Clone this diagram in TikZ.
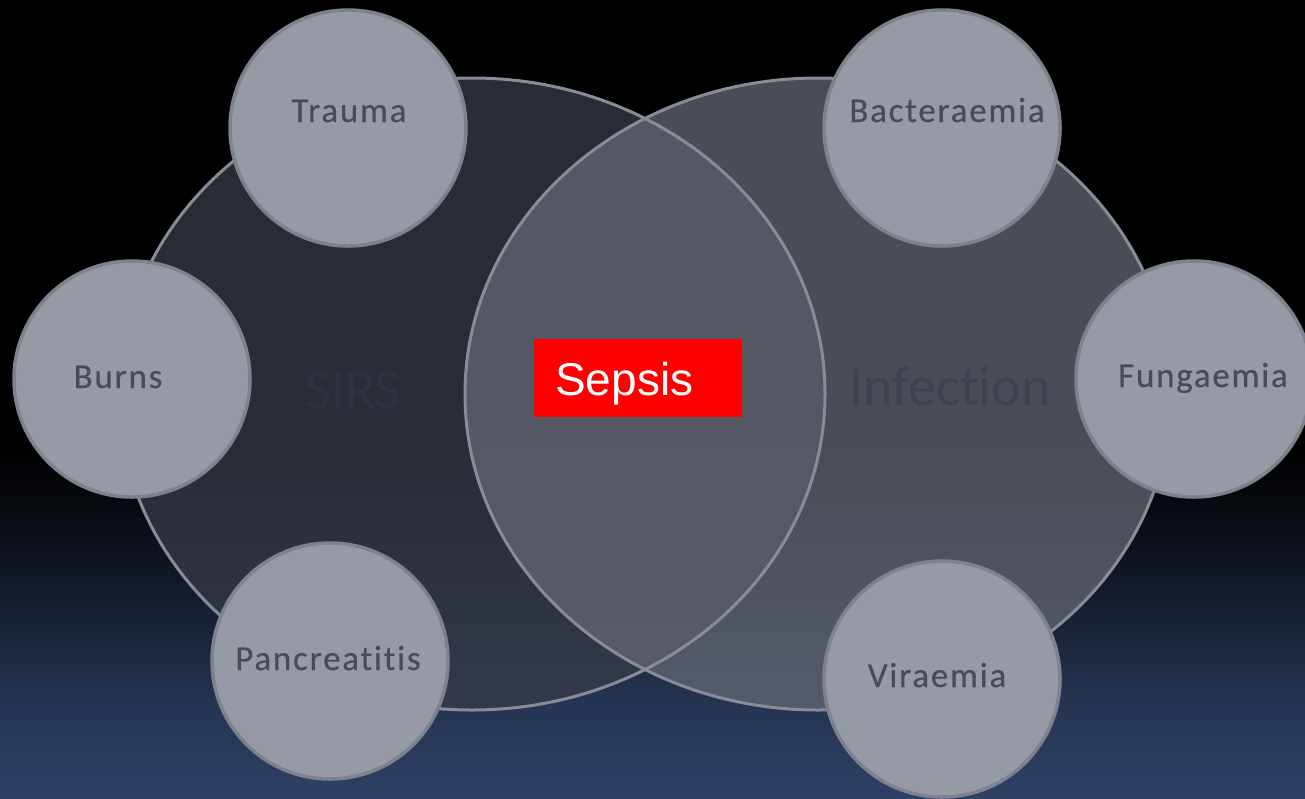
\documentclass[tikz,border=0pt]{standalone}
\usepackage{fontspec}
\setmainfont[Ligatures=NoCommon]{Carlito}
\newfontfamily\arialf{Liberation Sans}
\newfontfamily\labelf[LetterSpace=5,Ligatures=NoCommon,FakeBold=0.4]{Carlito}
\definecolor{bgbot}{RGB}{46,64,100}
\definecolor{bgb2}{RGB}{37,52,82}
\definecolor{bgb3}{RGB}{22,30,48}
\definecolor{bgb4}{RGB}{10,13,22}
\definecolor{sirsfill}{RGB}{56,60,72}
\definecolor{inffill}{RGB}{100,104,115}
\definecolor{outline}{RGB}{135,140,152}
\definecolor{smallfill}{RGB}{150,154,165}
\definecolor{smallborder}{RGB}{125,130,142}
\definecolor{smalltext}{RGB}{72,76,88}
\definecolor{sirstext}{RGB}{46,49,66}
\definecolor{inftext}{RGB}{62,65,79}
\definecolor{sepsisred}{RGB}{255,0,0}
\pgfdeclareverticalshading{bgshade}{100bp}{color(0bp)=(bgbot); color(25bp)=(bgbot); color(31bp)=(bgb2); color(37bp)=(bgb3); color(42bp)=(bgb4); color(47bp)=(black); color(100bp)=(black)}
\tikzset{
  small/.style={circle, draw=smallborder, line width=3.5pt, fill=smallfill, minimum size=236pt, inner sep=0pt},
  smalllabel/.style={anchor=base, text=smalltext, font=\labelf\fontsize{35}{40}\selectfont, inner sep=0pt},
  biglabel/.style={anchor=base, font=\fontsize{56}{60}\selectfont, inner sep=0pt},
  bigoutline/.style={draw=outline, line width=3pt}
}
\begin{document}
\begin{tikzpicture}[x=1pt,y=-1pt]
\useasboundingbox (0,0) rectangle (1305,798);
\shade[shading=bgshade] (0,0) rectangle (1305,798);
% big ellipses
\fill[sirsfill, fill opacity=0.75] (472,394) ellipse [x radius=353pt, y radius=316pt];
\fill[inffill, fill opacity=0.75] (818,394) ellipse [x radius=353pt, y radius=316pt];
\draw[bigoutline] (472,394) ellipse [x radius=353pt, y radius=316pt];
\draw[bigoutline] (818,394) ellipse [x radius=353pt, y radius=316pt];
\node[biglabel, text=sirstext] (sirs) at (353,408) {SIRS};
\node[biglabel, text=inftext] (infection) at (950,405) {Infection};
% small circles
\node[small] (ctrauma) at (348,128) {};
\node[small] (cbact) at (942,128) {};
\node[small] (cburns) at (132,379) {};
\node[small] (cfung) at (1194,379) {};
\node[small] (cpanc) at (330,661) {};
\node[small] (cvir) at (942,679) {};
\node[smalllabel] (trauma) at (349,122) {Trauma};
\node[smalllabel] (bact) at (947,122) {Bacteraemia};
\node[smalllabel] (burns) at (118,388) {Burns};
\node[smalllabel] (fung) at (1203,387) {Fungaemia};
\node[smalllabel] (panc) at (328,670) {Pancreatitis};
\node[smalllabel] (vir) at (937,687) {Viraemia};
% sepsis
\fill[sepsisred] (534,339) rectangle (742,417);
\node[anchor=base west, inner sep=0pt, text=white, font=\arialf\fontsize{46}{50}\selectfont] (sepsis) at (555,395) {Sepsis};
\end{tikzpicture}
\end{document}
